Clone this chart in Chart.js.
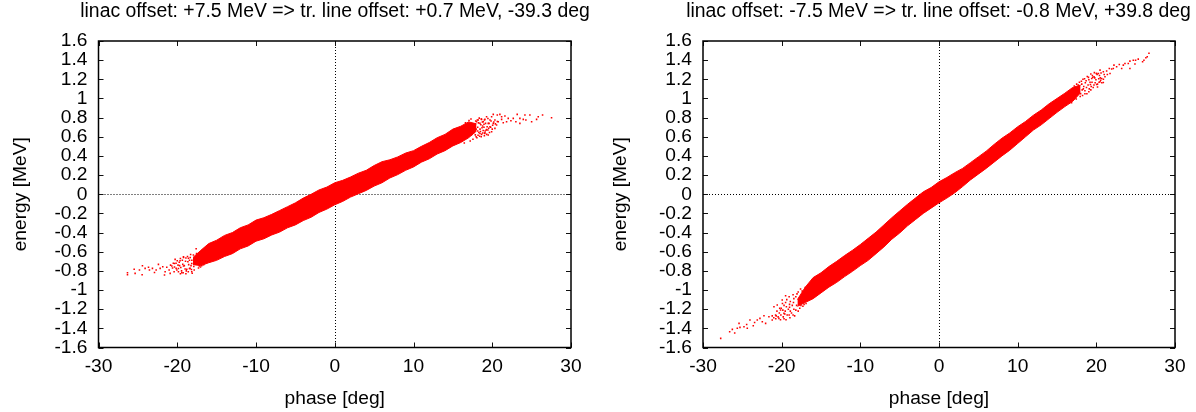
<!DOCTYPE html>
<html><head><meta charset="utf-8">
<script src="https://cdn.jsdelivr.net/npm/chart.js@4/dist/chart.umd.min.js"></script>
<style>html,body{margin:0;padding:0;background:#fff;overflow:hidden}
#a,#b{position:absolute;top:0;height:412px}#a{left:0;width:670px}#b{left:600px;width:677px}</style></head>
<body><div id="a"><canvas id="c1"></canvas></div>
<div id="b"><canvas id="c2"></canvas></div>
<script>
const titleLeft = "linac offset: +7.5 MeV => tr. line offset: +0.7 MeV, -39.3 deg";
const titleRight = "linac offset: -7.5 MeV => tr. line offset: -0.8 MeV, +39.8 deg";
const xLabel = "phase [deg]";
const yLabel = "energy [MeV]";

const bandPhase = [-18,-17,-16,-15,-14,-13,-12,-11,-10,-9,-8,-7,-6,-5,-4,-3,-2,-1,0,1,2,3,4,5,6,7,8,9,10,11,12,13,14,15,16,17,18];
const leftUpper = [-.66,-.585,-.515,-.48,-.43,-.4,-.35,-.32,-.27,-.245,-.21,-.17,-.13,-.09,-.04,0,.045,.075,.12,.145,.18,.22,.25,.30,.34,.36,.39,.43,.455,.50,.54,.59,.625,.68,.71,.755,.735];
const leftLower = [-.735,-.745,-.715,-.69,-.65,-.62,-.57,-.54,-.49,-.465,-.425,-.395,-.35,-.32,-.275,-.24,-.19,-.155,-.11,-.075,-.03,.005,.04,.085,.12,.17,.205,.25,.285,.335,.37,.42,.455,.505,.54,.59,.66];
const rightUpper = [-1.1,-.97,-.87,-.82,-.755,-.70,-.64,-.585,-.525,-.46,-.395,-.32,-.245,-.175,-.105,-.04,.025,.07,.13,.175,.225,.27,.33,.39,.45,.52,.585,.64,.705,.76,.825,.88,.945,1.0,1.055,1.115,1.14];
const rightLower = [-1.17,-1.13,-1.09,-1.03,-.97,-.92,-.86,-.805,-.745,-.69,-.62,-.55,-.47,-.405,-.33,-.265,-.2,-.145,-.09,-.04,.015,.08,.15,.21,.27,.335,.40,.46,.53,.60,.67,.725,.79,.855,.915,.97,1.06];

const leftTipX = [27.53,26.39,25.84,25.63,24.78,24.15,25.0,24.27,23.94,23.51,23.17,23.0,23.51,22.67,22.37,22.03,21.82,21.61,21.19,20.97,20.64,20.13,19.92,19.28,19.71,20.34,20.76,21.19,21.4,20.55,20.13,19.49,19.07,18.86,18.65,18.22,18.44,19.71,20.34,19.92,19.28,18.78,19.07,18.44,19.49,18.01,
  17.3,17.9,18.35,16.6,17.05,18.75,18.15,18.55,19.15,19.35,18.85,19.25,18.3,17.55,18.05,18.65,17.2,16.45,19.55,18.45,17.75,18.95,18.2,19.05,17.85,17.25,
  18.1,18.6,19.0,19.45,19.85,20.2,20.65,18.25,18.95,19.6,20.05,20.4,17.6,17.95,18.7,19.45,19.8,20.0,18.15,18.5,19.1,19.65,17.7,18.4,18.8,19.3,17.35,18.6,17.95,19.0];
const leftTipY = [.799,.827,.809,.782,.827,.827,.757,.775,.782,.792,.834,.757,.74,.792,.768,.792,.757,.816,.809,.834,.827,.834,.809,.809,.775,.775,.757,.782,.747,.722,.74,.74,.782,.757,.782,.775,.74,.705,.688,.653,.677,.712,.642,.635,.618,.757,
  .785,.765,.795,.745,.77,.755,.70,.725,.74,.705,.665,.67,.645,.575,.59,.625,.555,.535,.69,.68,.73,.70,.615,.635,.62,.655,
  .775,.785,.775,.79,.765,.755,.76,.745,.73,.74,.72,.735,.705,.68,.695,.67,.70,.68,.66,.655,.66,.645,.645,.605,.64,.625,.62,.60,.60,.61];
const leftTailX = [-26.32,-26.32,-25.47,-25.35,-24.8,-24.46,-24.42,-24.08,-23.65,-23.53,-23.15,-22.89,-22.68,-22.39,-22.17,-21.84,-21.62,-21.54,-21.33,-21.03,-20.9,-20.69,-20.35,-20.14,-19.85,-19.42,-19.21,-18.79,-18.37,-18.16,-20.27,-19.64,-19.21,-18.58,-18.16,
  -18.3,-18.9,-19.35,-17.6,-18.65,-19.75,-19.1,-19.55,-18.45,-18.85,-17.85,-18.1,-17.3,-19.25,-20.05,-20.35,-17.05,-16.65,-18.25,-19.9,-20.5,-18.7,-19.6,
  -17.55,-17.95,-18.35,-18.15,-17.75,-18.55,-18.95,-19.3,-19.7,-20.15,-20.6,-20.85,-19.45,-18.6,-19.0,-17.5,-17.9,-18.2,-19.85,-20.4,-18.9,-19.6,-17.7,-18.45,-19.2,-20.0,-17.2,-16.9];
const leftTailY = [-.819,-.84,-.784,-.826,-.791,-.84,-.746,-.774,-.763,-.791,-.774,-.816,-.791,-.732,-.774,-.756,-.843,-.809,-.763,-.791,-.826,-.749,-.722,-.774,-.809,-.819,-.749,-.784,-.774,-.809,-.68,-.694,-.652,-.669,-.722,
  -.63,-.665,-.69,-.57,-.705,-.71,-.745,-.765,-.775,-.80,-.79,-.825,-.77,-.82,-.79,-.76,-.76,-.735,-.745,-.74,-.72,-.65,-.67,
  -.62,-.635,-.66,-.69,-.675,-.735,-.70,-.73,-.745,-.72,-.77,-.74,-.80,-.81,-.78,-.73,-.755,-.785,-.775,-.81,-.83,-.83,-.70,-.69,-.66,-.695,-.75,-.745];

const rightTipX = [26.69,26.47,26.3,26.05,25.88,25.33,24.99,24.7,24.91,24.27,24.06,23.64,24.27,23.43,23.22,22.92,22.58,22.24,22.16,21.95,21.65,21.31,21.74,20.89,21.1,20.47,20.26,20.68,20.04,19.71,21.4,20.47,20.04,20.89,19.41,
  18.3,18.85,19.3,19.75,20.1,17.5,17.85,18.6,19.05,19.55,20.4,18.4,18.95,19.45,19.95,20.3,18.55,19.1,19.7,20.15,20.55,17.95,18.2,18.8,19.35,17.45,16.85,20.7,
  17.2,17.7,18.1,18.5,19.0,19.5,20.0,20.6,21.0,18.15,18.7,19.2,19.8,20.5,20.9,17.7,18.35,18.75,19.25,19.85,20.35,18.0,18.55,19.05,19.6,20.15,19.3,18.25];
const rightTipY = [1.473,1.435,1.425,1.4,1.383,1.411,1.4,1.4,1.359,1.39,1.366,1.366,1.313,1.348,1.313,1.355,1.331,1.348,1.313,1.307,1.313,1.286,1.261,1.279,1.226,1.296,1.261,1.209,1.261,1.226,1.251,1.174,1.146,1.167,1.209,
  1.2,1.23,1.255,1.27,1.25,1.15,1.17,1.165,1.195,1.22,1.24,1.125,1.14,1.17,1.195,1.205,1.08,1.1,1.14,1.15,1.19,1.02,1.09,1.05,1.125,.995,.955,1.165,
  1.13,1.14,1.18,1.205,1.22,1.24,1.26,1.265,1.25,1.15,1.185,1.17,1.215,1.215,1.2,1.07,1.10,1.115,1.145,1.165,1.17,1.05,1.05,1.07,1.115,1.12,1.09,1.03];
const rightTailX = [-27.75,-26.61,-26.27,-25.97,-25.64,-25.3,-25.42,-24.79,-24.45,-24.37,-24.03,-23.61,-23.44,-23.1,-22.76,-22.46,-22.25,-22.04,-21.62,-21.2,-20.77,-20.35,-20.98,-20.14,-19.5,-19.93,-20.56,-19.71,
  -18.45,-18.9,-19.35,-17.6,-18.05,-19.7,-20.05,-18.65,-19.15,-19.55,-20.3,-18.2,-18.75,-19.3,-19.8,-20.45,-17.7,-18.35,-18.95,-17.3,-16.9,-19.45,-20.7,-21.0,-19,-20.15,
  -17.0,-17.4,-17.9,-18.2,-18.55,-19.05,-19.5,-19.9,-18.5,-18.1,-17.65,-19.0,-19.4,-19.85,-20.25,-20.6,-18.45,-17.9,-18.9,-19.05,-19.6,-20.1,-20.75,-18.55,-19.7,-17.55,-17.15,-21.2];
const rightTailY = [-1.505,-1.435,-1.411,-1.449,-1.4,-1.39,-1.348,-1.383,-1.359,-1.4,-1.313,-1.372,-1.338,-1.313,-1.296,-1.331,-1.268,-1.348,-1.278,-1.313,-1.261,-1.296,-1.174,-1.209,-1.059,-1.105,-1.157,-1.244,
  -1.09,-1.12,-1.1,-.99,-1.04,-1.16,-1.19,-1.16,-1.2,-1.22,-1.24,-1.21,-1.24,-1.26,-1.28,-1.28,-1.19,-1.27,-1.29,-1.17,-1.14,-1.31,-1.27,-1.29,-1.18,-1.31,
  -.975,-1.01,-1.02,-1.07,-1.05,-1.07,-1.13,-1.14,-1.13,-1.16,-1.1,-1.15,-1.175,-1.21,-1.19,-1.22,-1.2,-1.22,-1.22,-1.26,-1.25,-1.26,-1.3,-1.26,-1.3,-1.16,-1.15,-1.27];

const pairs = (xs, ys) => xs.map((x, i) => ({x, y: ys[i]}));
const FONT = '"Liberation Sans", Arial, sans-serif';
const TEXT = 19.2;

const frame = {
  id: 'frame',
  beforeDatasetsDraw(chart) {
    const {ctx, chartArea: a, scales: {x, y}} = chart;
    ctx.save();
    ctx.strokeStyle = '#000'; ctx.lineWidth = 1; ctx.setLineDash([1, 2]);
    ctx.beginPath();
    const x0 = Math.round(x.getPixelForValue(0)) + .5, y0 = Math.round(y.getPixelForValue(0)) + .5;
    ctx.moveTo(x0, a.top); ctx.lineTo(x0, a.bottom);
    ctx.moveTo(a.left, y0); ctx.lineTo(a.right, y0);
    ctx.stroke();
    ctx.restore();
  },
  afterDatasetsDraw(chart) {
    const {ctx, chartArea: a, scales: {x, y}} = chart;
    ctx.save();
    ctx.strokeStyle = '#111'; ctx.lineWidth = 1;
    ctx.beginPath();
    x.ticks.forEach(t => {
      const p = Math.round(x.getPixelForValue(t.value)) + .5;
      ctx.moveTo(p, a.bottom); ctx.lineTo(p, a.bottom - 5);
      ctx.moveTo(p, a.top); ctx.lineTo(p, a.top + 5);
    });
    y.ticks.forEach(t => {
      const p = Math.round(y.getPixelForValue(t.value)) + .5;
      ctx.moveTo(a.left, p); ctx.lineTo(a.left + 5, p);
      ctx.moveTo(a.right, p); ctx.lineTo(a.right - 5, p);
    });
    ctx.stroke();
    ctx.lineWidth = 1.5; ctx.strokeStyle = '#000';
    ctx.strokeRect(a.left, a.top, a.right - a.left, a.bottom - a.top);
    ctx.restore();
  }
};

function make(id, title, upper, lower, tipX, tipY, tailX, tailY, leftW, rightW) {
  const band = ys => ({type: 'line', data: pairs(bandPhase, ys), borderColor: '#f00', borderWidth: 1, pointRadius: 0, tension: 0});
  new Chart(document.getElementById(id), {
    type: 'scatter',
    data: {datasets: [
      Object.assign(band(upper), {fill: '+1', backgroundColor: '#f00'}),
      Object.assign(band(lower), {fill: false}),
      {data: pairs(tipX, tipY), backgroundColor: '#f00', borderWidth: 0, pointStyle: 'rect', pointRadius: 1.1},
      {data: pairs(tailX, tailY), backgroundColor: '#f00', borderWidth: 0, pointStyle: 'rect', pointRadius: 1.1}
    ]},
    plugins: [frame],
    options: {
      responsive: true, maintainAspectRatio: false, animation: false,
      layout: {padding: 0},
      plugins: {
        legend: {display: false}, tooltip: {enabled: false},
        title: {display: true, text: title, color: '#000', font: {family: FONT, size: 19.4, weight: 'normal', lineHeight: 1}, padding: {top: 2, bottom: 19.6}}
      },
      scales: {
        x: {
          type: 'linear', min: -30, max: 30,
          ticks: {stepSize: 10, color: '#000', font: {family: FONT, size: TEXT}, padding: 8, maxRotation: 0, callback: v => String(v)},
          grid: {drawOnChartArea: false, drawTicks: false}, border: {display: false},
          title: {display: true, text: xLabel, color: '#000', font: {family: FONT, size: TEXT}, padding: {top: 6, bottom: 2}},
          afterFit(s) { s.height = 64.5; }
        },
        y: {
          type: 'linear', min: -1.6, max: 1.6,
          ticks: {stepSize: .2, autoSkip: false, color: '#000', font: {family: FONT, size: TEXT}, padding: 11, callback: v => String(+v.toFixed(1))},
          grid: {drawOnChartArea: false, drawTicks: false}, border: {display: false},
          title: {display: true, text: yLabel, color: '#000', font: {family: FONT, size: TEXT}, padding: {top: 9.5, bottom: 0}},
          afterFit(s) { s.width = leftW; }
        },
        margin: {
          type: 'linear', position: 'right', min: -1.6, max: 1.6, display: true,
          ticks: {display: false}, grid: {display: false}, border: {display: false},
          afterFit(s) { s.width = rightW; }
        }
      }
    }
  });
}
make('c1', titleLeft, leftUpper, leftLower, leftTipX, leftTipY, leftTailX, leftTailY, 98.5, 99);
make('c2', titleRight, rightUpper, rightLower, rightTipX, rightTipY, rightTailX, rightTailY, 103, 102);
</script></body></html>
